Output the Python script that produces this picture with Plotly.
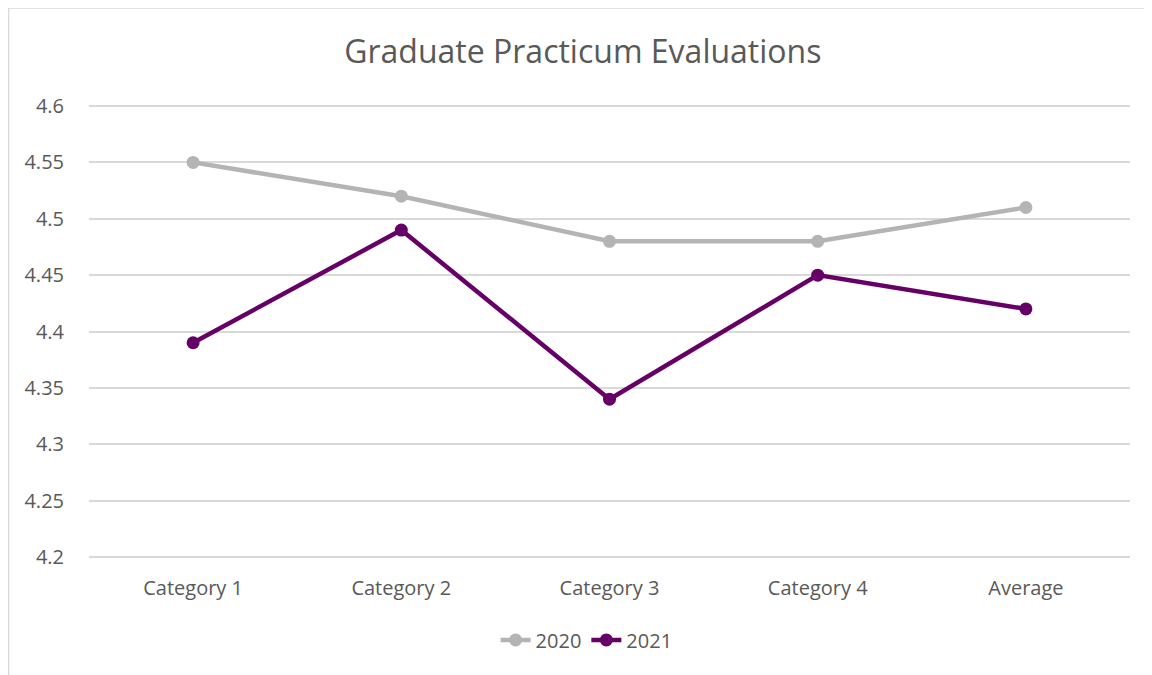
import plotly.graph_objects as go

categories = ["Category 1", "Category 2", "Category 3", "Category 4", "Average"]
y2020 = [4.55, 4.52, 4.48, 4.48, 4.51]
y2021 = [4.39, 4.49, 4.34, 4.45, 4.42]

fig = go.Figure()
fig.add_trace(go.Scatter(x=categories, y=y2020, name="2020", mode="lines+markers",
                         line=dict(color="#B4B4B4", width=4.5), marker=dict(size=13)))
fig.add_trace(go.Scatter(x=categories, y=y2021, name="2021", mode="lines+markers",
                         line=dict(color="#660066", width=4.5), marker=dict(size=13)))

font = "Open Sans, Liberation Sans, sans-serif"
# page body adds an 8px offset, margins compensate for it
fig.update_layout(
    width=1152, height=675,
    paper_bgcolor="white", plot_bgcolor="white",
    margin=dict(l=81, r=30, t=87, b=115),
    font=dict(family=font, color="#595959", size=20),
    title=dict(text="Graduate Practicum Evaluations", x=0.499, xanchor="center",
               y=1 - 44 / 675, yanchor="middle", font=dict(size=32, color="#595959")),
    xaxis=dict(range=[-0.5, 4.5], showgrid=False, showline=False, ticks="outside",
               ticklen=2, tickcolor="white", tickfont=dict(size=20)),
    yaxis=dict(range=[4.19024, 4.60976], dtick=0.05, tick0=4.2, gridcolor="#D9D9D9",
               gridwidth=1.5, zeroline=False, showline=False, ticks="outside",
               ticklen=20, tickcolor="white", tickfont=dict(size=20)),
    legend=dict(orientation="h", x=0.478, xanchor="center", y=-0.152, yanchor="middle",
                font=dict(size=20)),
    showlegend=True,
)
fig.add_shape(type="rect", xref="paper", yref="paper", x0=-0.0773, x1=1.05,
              y0=-0.3, y1=1.184, line=dict(color="#D9D9D9", width=1.5), layer="below")

fig.write_html("out.html")
